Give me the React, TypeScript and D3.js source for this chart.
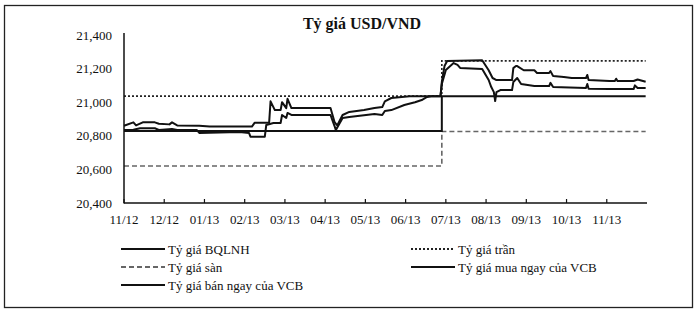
import React from "react";
import * as d3 from "d3";

const monthLabels = ["11/12","12/12","01/13","02/13","03/13","04/13","05/13","06/13","07/13","08/13","09/13","10/13","11/13"];
const yTicks = [20400, 20600, 20800, 21000, 21200, 21400];

const policyDates = ["2012-11-01", "2013-06-28", "2013-11-30"];
const bqlnhValues = [20828, 21036, 21036];
const ceilingValues = [21036, 21246, 21246];
const floorValues = [20620, 20826, 20826];

const sellDates = ["2012-11-01","2012-11-08","2012-11-10","2012-11-15","2012-11-24","2012-11-27","2012-12-05","2012-12-07","2012-12-11","2012-12-28","2013-01-05","2013-01-28","2013-02-06","2013-02-08","2013-02-18","2013-02-19","2013-02-22","2013-02-26","2013-02-27","2013-03-02","2013-03-03","2013-03-06","2013-04-05","2013-04-08","2013-04-10","2013-04-14","2013-04-19","2013-04-30","2013-05-08","2013-05-14","2013-05-16","2013-05-21","2013-06-04","2013-06-27","2013-06-28","2013-06-30","2013-07-02","2013-07-29","2013-08-03","2013-08-06","2013-08-09","2013-08-21","2013-08-22","2013-08-24","2013-08-25","2013-08-30","2013-09-07","2013-09-09","2013-09-18","2013-09-19","2013-09-21","2013-09-29","2013-10-05","2013-10-16","2013-10-17","2013-10-18","2013-11-03","2013-11-07","2013-11-08","2013-11-09","2013-11-21","2013-11-24","2013-11-30"];
const sellValues = [20860,20880,20862,20880,20880,20872,20868,20880,20862,20860,20855,20855,20855,20878,20878,21005,20953,20953,21000,20965,21020,20965,20965,20882,20862,20924,20942,20953,20965,20971,21005,21025,21036,21036,21120,21215,21245,21250,21190,21144,21132,21132,21203,21215,21215,21190,21190,21174,21174,21185,21156,21150,21144,21144,21162,21132,21126,21126,21140,21126,21126,21135,21122];

const buyDates = ["2012-11-01","2012-11-08","2012-11-13","2012-11-24","2012-11-27","2012-12-07","2012-12-11","2012-12-26","2012-12-28","2013-01-28","2013-02-04","2013-02-05","2013-02-15","2013-02-16","2013-02-21","2013-02-26","2013-02-27","2013-03-02","2013-03-03","2013-03-06","2013-04-05","2013-04-08","2013-04-09","2013-04-14","2013-04-19","2013-05-08","2013-05-14","2013-05-16","2013-05-21","2013-05-31","2013-06-08","2013-06-13","2013-06-17","2013-06-20","2013-06-27","2013-06-28","2013-07-01","2013-07-07","2013-07-10","2013-07-12","2013-07-29","2013-08-03","2013-08-05","2013-08-07","2013-08-08","2013-08-09","2013-08-12","2013-08-21","2013-08-22","2013-08-25","2013-08-28","2013-09-07","2013-09-18","2013-09-19","2013-09-21","2013-10-16","2013-10-17","2013-10-18","2013-11-03","2013-11-21","2013-11-22","2013-11-24","2013-11-30"];
const buyValues = [20835,20836,20845,20845,20835,20840,20835,20835,20817,20823,20817,20795,20795,20864,20876,20876,20924,20906,20936,20924,20924,20858,20834,20906,20912,20930,20924,20948,20953,20983,21000,21013,21031,21036,21036,21108,21192,21233,21222,21204,21198,21132,21090,21060,21007,21060,21072,21072,21120,21144,21108,21096,21096,21115,21090,21085,21108,21080,21078,21078,21100,21085,21085];

function monthIndex(s: string): number {
  const [y, m, d] = s.split("-").map(Number);
  const days = new Date(y, m, 0).getDate();
  return (y - 2012) * 12 + (m - 11) + (d - 1) / days;
}

type Pt = [number, number];
const zip = (ds: string[], vs: number[]): Pt[] => ds.map((d, i) => [monthIndex(d), vs[i]]);

export default function App() {
  const W = 698, H = 315;
  const x = d3.scaleLinear().domain([0, 13]).range([124, 647]);
  const y = d3.scaleLinear().domain([20400, 21400]).range([203, 35]);
  const lin = d3.line<Pt>().x(d => x(d[0])).y(d => y(d[1]));
  const step = d3.line<Pt>().x(d => x(d[0])).y(d => y(d[1])).curve(d3.curveStepAfter);
  const font = "'Liberation Serif', 'Times New Roman', serif";

  const legend = [
    { label: "Tỷ giá BQLNH", x: 121, y: 249, dash: "", color: "#111" },
    { label: "Tỷ giá trần", x: 411, y: 249, dash: "2,2", color: "#222" },
    { label: "Tỷ giá sàn", x: 121, y: 267, dash: "5,3", color: "#666" },
    { label: "Tỷ giá mua ngay của VCB", x: 411, y: 267, dash: "", color: "#111" },
    { label: "Tỷ giá bán ngay của VCB", x: 121, y: 285, dash: "", color: "#111" },
  ];

  return (
    <svg width={W} height={H} style={{ position: "absolute", left: 0, top: 0, background: "#fff" }} fontFamily={font}>
      <rect x={4.5} y={5.5} width={688} height={302} fill="#fff" stroke="#222" strokeWidth={1.3} />
      <text x={362} y={29} textAnchor="middle" fontSize={16} fontWeight="bold" fill="#111">Tỷ giá USD/VND</text>

      {yTicks.map(t => (
        <text key={t} x={112} y={y(t)} dy="0.35em" textAnchor="end" fontSize={13} fill="#111">{d3.format(",")(t)}</text>
      ))}
      {monthLabels.map((l, i) => (
        <g key={l}>
          <line x1={x(i)} x2={x(i)} y1={203} y2={199} stroke="#111" strokeWidth={1.2} />
          <text x={x(i)} y={224} textAnchor="middle" fontSize={13} fill="#111">{l}</text>
        </g>
      ))}

      <path d={step(zip(policyDates, floorValues)) || ""} fill="none" stroke="#666" strokeWidth={1.6} strokeDasharray="5,3" />
      <path d={step(zip(policyDates, ceilingValues)) || ""} fill="none" stroke="#222" strokeWidth={1.6} strokeDasharray="2,2" />
      <path d={step(zip(policyDates, bqlnhValues)) || ""} fill="none" stroke="#111" strokeWidth={2} />
      <path d={lin(zip(buyDates, buyValues)) || ""} fill="none" stroke="#111" strokeWidth={2} strokeLinejoin="round" />
      <path d={lin(zip(sellDates, sellValues)) || ""} fill="none" stroke="#111" strokeWidth={2} strokeLinejoin="round" />

      <line x1={124} x2={124} y1={33} y2={203.5} stroke="#111" strokeWidth={1.5} />
      <line x1={124} x2={647} y1={203} y2={203} stroke="#111" strokeWidth={1.5} />

      {legend.map(it => (
        <g key={it.label}>
          <line x1={it.x} x2={it.x + 44} y1={it.y} y2={it.y} stroke={it.color} strokeWidth={2} strokeDasharray={it.dash || undefined} />
          <text x={it.x + 47} y={it.y} dy="0.35em" fontSize={13} fill="#111">{it.label}</text>
        </g>
      ))}
    </svg>
  );
}
